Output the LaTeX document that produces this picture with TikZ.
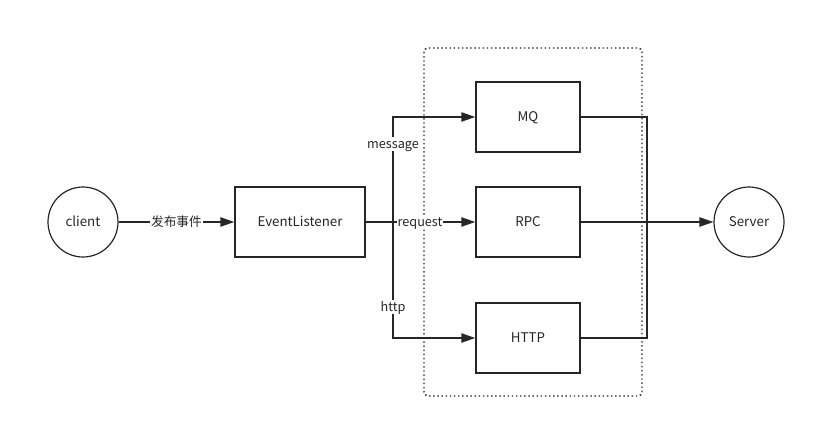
\documentclass[tikz,border=0pt]{standalone}
\usepackage{fontspec}
\setmainfont{Noto Sans CJK SC}
\usetikzlibrary{arrows.meta}
\begin{document}
\begin{tikzpicture}[x=0.75pt,y=-0.75pt,
  every node/.style={font=\fontsize{10}{12}\selectfont, text=black!85, text height=0.72em, text depth=0.12em},
  box/.style={draw=black!85, line width=1.1pt, minimum width=78pt, minimum height=52.5pt, inner sep=0pt},
  circ/.style={circle, draw=black!85, line width=0.9pt, minimum size=52.5pt, inner sep=0pt},
  conn/.style={draw=black!85, line width=1.1pt},
  arr/.style={conn, -{Triangle[length=10.5pt,width=7pt]}},
  lab/.style={fill=white, inner sep=0.8pt, font=\fontsize{9.5}{11}\selectfont}]
\useasboundingbox (0,0) rectangle (816,428);
\draw[dotted, line width=1.1pt, draw=black!85, rounded corners=3pt] (424,48) rectangle (642,396);
\node[circ] (client) at (83,222) {client};
\node[box, minimum width=97.5pt] (el) at (300,222) {EventListener};
\node[box] (mq) at (528,117) {MQ};
\node[box] (rpc) at (528,222) {RPC};
\node[box] (http) at (528,338) {HTTP};
\node[circ] (server) at (749,222) {Server};
\coordinate (split) at (393,222);
\coordinate (join) at (647,222);
\draw[arr] (client) -- node[lab] {发布事件} (el);
\draw[conn] (el) -- (split);
\draw[arr] (split) |- (mq);
\draw[arr] (split) |- (http);
\draw[arr] (split) -- (rpc);
\node[lab] (lm) at (393,144) {message};
\node[lab] (lh) at (393,307) {http};
\node[lab] (lr) at (420,222) {request};
\draw[conn] (mq) -| (join);
\draw[conn] (http) -| (join);
\draw[arr] (rpc) -- (server);
\end{tikzpicture}
\end{document}
